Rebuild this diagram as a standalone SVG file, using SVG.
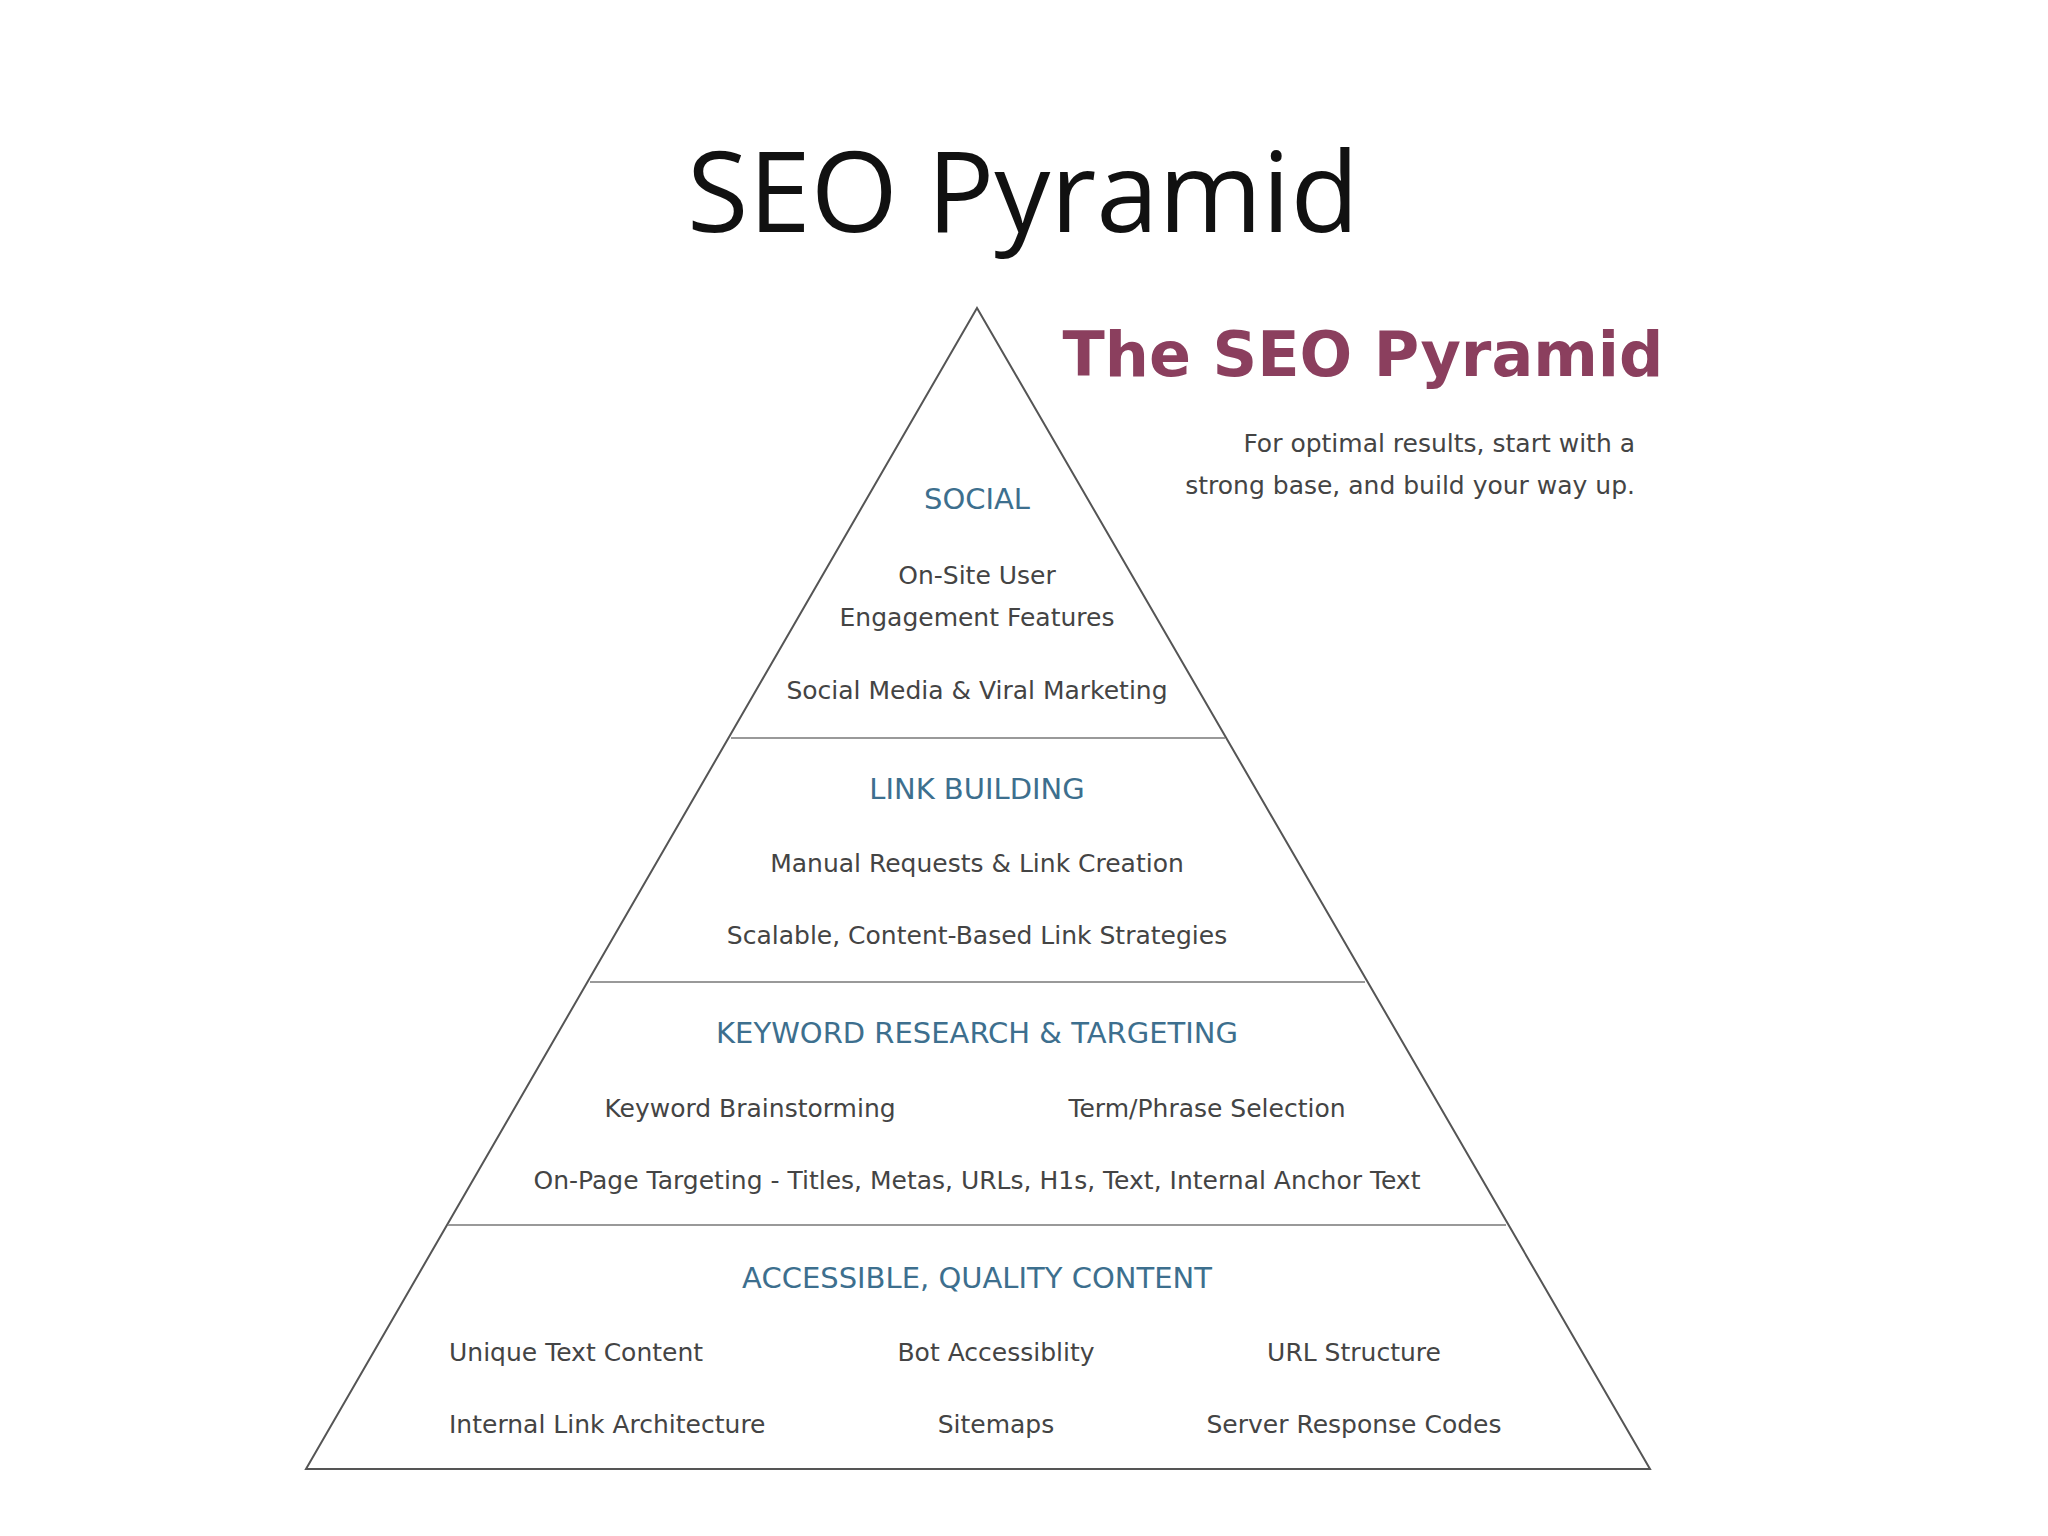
<svg xmlns="http://www.w3.org/2000/svg" width="2048" height="1536" viewBox="0 0 2048 1536">
<style>
.h{font-family:"DejaVu Sans",sans-serif;font-size:29px;fill:#3d6f8e;text-anchor:middle}
.t{font-family:"DejaVu Sans",sans-serif;font-size:25px;fill:#444;text-anchor:middle}
.l{text-anchor:start}
.ln{stroke:#555;stroke-width:2;fill:none}
.sep{stroke:#999;stroke-width:2}
</style>
<rect width="2048" height="1536" fill="#fff"/>
<text x="1023" y="232" font-family="'Open Sans','Noto Sans',sans-serif" font-size="112" text-anchor="middle" fill="#111">SEO Pyramid</text>
<g id="pyramid">
<path class="ln" d="M977,308 L306,1469 L1650,1469 Z"/>
<line class="sep" x1="731" y1="738" x2="1225" y2="738"/>
<line class="sep" x1="590" y1="982" x2="1365" y2="982"/>
<line class="sep" x1="448" y1="1225" x2="1506" y2="1225"/>
</g>
<g id="header">
<text x="1363" y="376" font-family="'DejaVu Sans',sans-serif" font-weight="bold" font-size="62" text-anchor="middle" fill="#8b3f5e">The SEO Pyramid</text>
<text x="1635" y="452" class="t" style="text-anchor:end">For optimal results, start with a</text>
<text x="1635" y="494" class="t" style="text-anchor:end">strong base, and build your way up.</text>
</g>
<g id="social">
<text class="h" x="977" y="509">SOCIAL</text>
<text class="t" x="977" y="584">On-Site User</text>
<text class="t" x="977" y="626">Engagement Features</text>
<text class="t" x="977" y="699">Social Media &amp; Viral Marketing</text>
</g>
<g id="link">
<text class="h" x="977" y="799">LINK BUILDING</text>
<text class="t" x="977" y="872">Manual Requests &amp; Link Creation</text>
<text class="t" x="977" y="944">Scalable, Content-Based Link Strategies</text>
</g>
<g id="keyword">
<text class="h" x="977" y="1043">KEYWORD RESEARCH &amp; TARGETING</text>
<text class="t" x="750" y="1117">Keyword Brainstorming</text>
<text class="t" x="1207" y="1117">Term/Phrase Selection</text>
<text class="t" x="977" y="1189">On-Page Targeting - Titles, Metas, URLs, H1s, Text, Internal Anchor Text</text>
</g>
<g id="content">
<text class="h" x="977" y="1288">ACCESSIBLE, QUALITY CONTENT</text>
<text class="t l" x="449" y="1361">Unique Text Content</text>
<text class="t" x="996" y="1361">Bot Accessiblity</text>
<text class="t" x="1354" y="1361">URL Structure</text>
<text class="t l" x="449" y="1433">Internal Link Architecture</text>
<text class="t" x="996" y="1433">Sitemaps</text>
<text class="t" x="1354" y="1433">Server Response Codes</text>
</g>
<g id="connectors"/>
</svg>
